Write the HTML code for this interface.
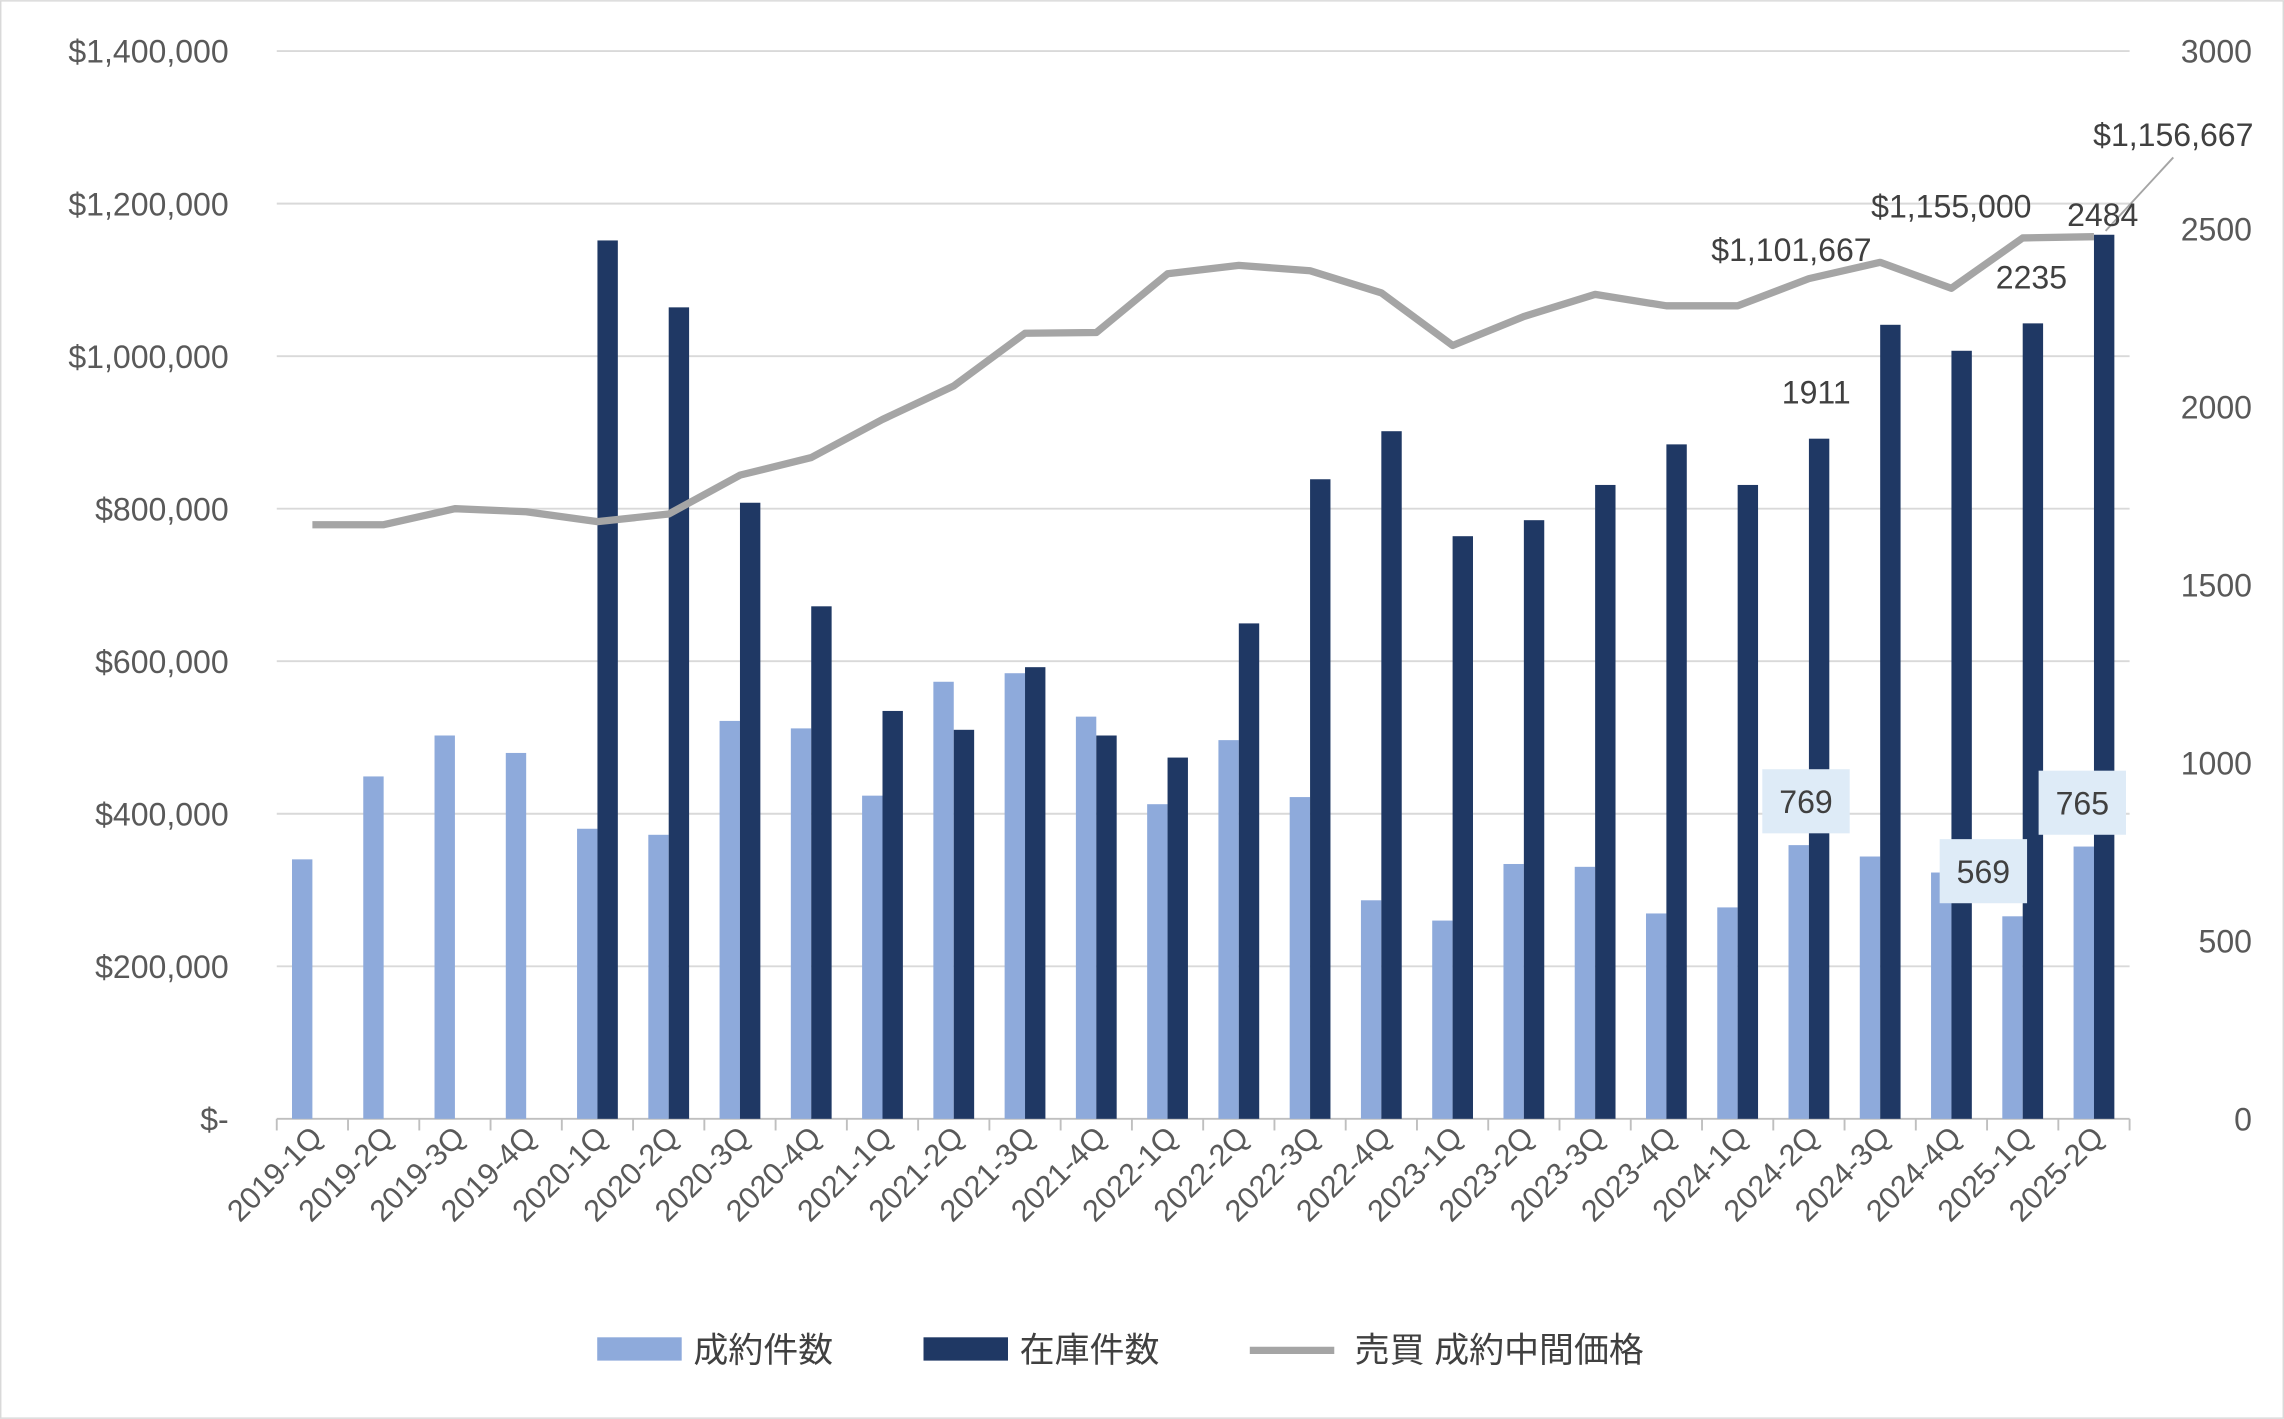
<!DOCTYPE html>
<html><head><meta charset="utf-8"><style>
html,body{margin:0;padding:0;background:#fff;}
svg{display:block;font-family:"Liberation Sans","Noto Sans CJK JP",sans-serif;}
</style></head><body>
<svg id="chart" width="2284" height="1419" viewBox="0 0 1568 974" xmlns="http://www.w3.org/2000/svg">
<rect x="0.5" y="0.5" width="1567" height="973" fill="#fff" stroke="#d9d9d9"/>
<g id="grid"></g>
<g id="bars"></g>
<g id="line"></g>
<g id="axes"></g>
<g id="labels"></g>
<g font-size="24" fill="#404040">
  <rect x="410" y="918" width="58" height="16" fill="#8eaadb"/>
  <text x="476" y="935">成約件数</text>
  <rect x="634" y="918" width="58" height="16" fill="#1f3864"/>
  <text x="700" y="935">在庫件数</text>
  <line x1="858" y1="927" x2="916" y2="927" stroke="#a5a5a5" stroke-width="5"/>
  <text x="930" y="935">売買 成約中間価格</text>
</g>
</svg>
<script>
const categories=["2019-1Q","2019-2Q","2019-3Q","2019-4Q","2020-1Q","2020-2Q","2020-3Q","2020-4Q","2021-1Q","2021-2Q","2021-3Q","2021-4Q","2022-1Q","2022-2Q","2022-3Q","2022-4Q","2023-1Q","2023-2Q","2023-3Q","2023-4Q","2024-1Q","2024-2Q","2024-3Q","2024-4Q","2025-1Q","2025-2Q"];
const contracts=[729,962,1077,1028,815,798,1118,1097,908,1228,1252,1130,884,1064,904,614,557,716,708,577,594,769,737,692,569,765];
const inventory=[null,null,null,null,2468,2280,1731,1440,1146,1093,1269,1077,1015,1392,1797,1932,1637,1682,1781,1895,1781,1911,2231,2158,2235,2484];
const prices=[779000,779000,800000,796000,783000,793000,844000,867000,917000,961000,1030000,1031000,1108000,1119000,1112000,1083000,1014000,1052000,1081000,1066000,1066000,1101667,1123000,1089000,1155000,1156667];
const leftTicks=["$-","$200,000","$400,000","$600,000","$800,000","$1,000,000","$1,200,000","$1,400,000"];
const rightTicks=["0","500","1000","1500","2000","2500","3000"];
const NS="http://www.w3.org/2000/svg";
const X0=190,X1=1462,Y0=768,Y1=35;
const bw=(X1-X0)/categories.length;
function xc(i){return X0+(i+0.5)*bw;}
function yL(v){return Y0-(v/1400000)*(Y0-Y1);}
function yR(v){return Y0-(v/3000)*(Y0-Y1);}
function mk(tag,attrs,parent){const e=document.createElementNS(NS,tag);for(const k in attrs)e.setAttribute(k,attrs[k]);parent.appendChild(e);return e;}
const grid=document.getElementById('grid'),bars=document.getElementById('bars'),line=document.getElementById('line'),axes=document.getElementById('axes'),labels=document.getElementById('labels');
leftTicks.forEach((t,i)=>{const y=yL(i*200000);
 const g=mk('line',{x1:X0,x2:X1,y1:y,y2:y,stroke:i===0?'#bfbfbf':'#d9d9d9','stroke-width':1.3},grid);
 
 
 const tx=mk('text',{x:157,y:y+8,'text-anchor':'end','font-size':22,fill:'#595959'},axes);tx.textContent=t;
 
 });
rightTicks.forEach((t,i)=>{const y=yR(i*500);
 const tx=mk('text',{x:1546,y:y+8,'text-anchor':'end','font-size':22,fill:'#595959'},axes);tx.textContent=t;
 
 });
for(let i=0;i<=categories.length;i++){const x=X0+i*bw;
 const tk=mk('line',{x1:x,x2:x,y1:Y0,y2:Y0+8,stroke:'#bfbfbf','stroke-width':1.3},axes);
 
 }
categories.forEach((c,i)=>{
 const x=xc(i);
 const tx=mk('text',{x:x+8,y:Y0+14,'text-anchor':'end','font-size':21,fill:'#595959',transform:`rotate(-45 ${x+8} ${Y0+14})`},axes);tx.textContent=c;
 
 
 const y=yR(contracts[i]);
 const b=mk('rect',{x:x-14,y:y,width:14,height:Y0-y,fill:'#8eaadb'},bars);
 
 
 if(inventory[i]!=null){const y2=yR(inventory[i]);
  const d=mk('rect',{x:x,y:y2,width:14,height:Y0-y2,fill:'#1f3864'},bars);
  
  }
});
const pts=prices.map((p,i)=>xc(i)+','+yL(p)).join(' ');
const pl=mk('polyline',{points:pts,fill:'none',stroke:'#a5a5a5','stroke-width':5,'stroke-linejoin':'round'},line);


function fmt(v){return '$'+v.toLocaleString('en-US');}
function lab(txt,x,y,anchor){const t=mk('text',{x:x,y:y,'text-anchor':anchor||'middle','font-size':22,fill:'#404040'},labels);t.textContent=txt;
 
 return t;}
// price labels
lab(fmt(prices[21]),xc(21)-12,yL(prices[21])-12);
lab(fmt(prices[24]),xc(24)-49,yL(prices[24])-14);
lab(fmt(prices[25]),1492,100);
const ll=mk('line',{x1:xc(25)+8,y1:yL(prices[25])-4,x2:1492,y2:108,stroke:'#a5a5a5','stroke-width':1.3},labels);


// inventory labels
lab(String(inventory[21]),xc(21)+5,yR(inventory[21])-24);
lab(String(inventory[24]),xc(24)+6,yR(inventory[24])-24);
lab(String(inventory[25]),xc(25)+6,yR(inventory[25])-6);
// boxed contract labels
[[21,-2,550],[24,-27,598],[25,-8,551]].forEach(([i,dx,cy])=>{
 const cx=xc(i)+dx;
 const r=mk('rect',{x:cx-30,y:cy-22,width:60,height:44,fill:'#deebf7'},labels);
 
 
 lab(String(contracts[i]),cx,cy+8);
});
</script>
</body></html>
